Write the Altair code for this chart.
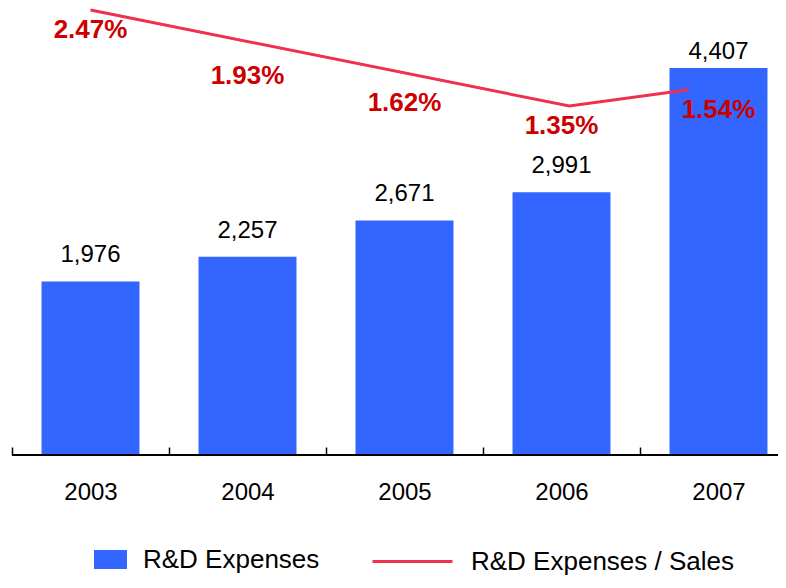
import altair as alt
import pandas as pd

# ---- data ----
years = [2003, 2004, 2005, 2006, 2007]
expenses = [1976, 2257, 2671, 2991, 4407]
expense_labels = ["1,976", "2,257", "2,671", "2,991", "4,407"]
ratio_pct = [2.47, 1.93, 1.62, 1.35, 1.54]
ratio_labels = ["2.47%", "1.93%", "1.62%", "1.35%", "1.54%"]
series_names = ["R&D Expenses", "R&D Expenses / Sales"]

# the ratio line as drawn in the picture (x in year units, y in %)
line_x = [2003.0, 2006.05, 2006.81]
line_v = [2.47, 1.35, 1.54]

FONT = "Liberation Sans"
BAR = "#3366FF"
LINE = "#F0304F"
PCT = "#CC0000"

bars_df = pd.DataFrame({"year": years, "exp": expenses, "lab": expense_labels,
                        "pct": ratio_pct, "plab": ratio_labels,
                        "series": [series_names[0]] * len(years)})
line_df = pd.DataFrame({"lx": line_x, "lv": line_v,
                        "series": [series_names[1]] * len(line_x)})

xscale = alt.Scale(domain=[2002.5, 2007.379], nice=False, zero=False)
yexp = alt.Scale(domain=[0, 5090], nice=False)
yrat = alt.Scale(domain=[-2.722, 2.4933], nice=False, zero=False)

xaxis = alt.Axis(
    values=[2002.5, 2003, 2003.5, 2004, 2004.5, 2005, 2005.5, 2006, 2006.5, 2007],
    labelExpr="datum.value % 1 == 0 ? toString(datum.value) : ''",
    tickOpacity={"condition": {"test": "datum.value % 1 != 0", "value": 1}, "value": 0},
    offset=-8, domain=False, grid=False, tickSize=8, tickColor="black", tickWidth=1.5,
    labelFontSize=24, labelFont=FONT, labelColor="black", labelPadding=25,
    labelOverlap=False, labelFlush=False, title=None,
)

base = alt.Chart(bars_df)

bars = base.transform_calculate(
    x0="datum.year - 0.312", x1="datum.year + 0.312"
).mark_bar().encode(
    x=alt.X("x0:Q", scale=xscale, axis=xaxis),
    x2="x1:Q",
    y=alt.Y("exp:Q", scale=yexp, axis=None),
    y2=alt.Y2Datum(0),
    fill=alt.Fill(
        "series:N",
        scale=alt.Scale(domain=[series_names[0]], range=[BAR]),
        legend=alt.Legend(orient="none", legendX=82, legendY=535, title=None,
                          symbolType="M-1,-0.576H1V0.576H-1Z", symbolSize=1089,
                          symbolStrokeWidth=0, labelFontSize=26, labelFont=FONT,
                          labelColor="black", labelOffset=16, padding=0, labelLimit=500),
    ),
)

rule = base.mark_rule(color="black", strokeWidth=2).encode(
    y=alt.YDatum(0, scale=yexp, axis=None)
)

exp_text = base.transform_filter("datum.year < 2007").mark_text(
    dy=-19, baseline="alphabetic", fontSize=24, font=FONT, color="black"
).encode(
    x=alt.X("year:Q", scale=xscale, axis=xaxis),
    y=alt.Y("exp:Q", scale=yexp, axis=None),
    text="lab:N",
)
exp_text_last = base.transform_filter("datum.year >= 2007").mark_text(
    dy=-9, baseline="alphabetic", fontSize=24, font=FONT, color="black"
).encode(
    x=alt.X("year:Q", scale=xscale, axis=xaxis),
    y=alt.Y("exp:Q", scale=yexp, axis=None),
    text="lab:N",
)

line = alt.Chart(line_df).mark_line(strokeWidth=3).encode(
    x=alt.X("lx:Q", scale=xscale, axis=xaxis),
    y=alt.Y("lv:Q", scale=yrat, axis=None),
    stroke=alt.Stroke(
        "series:N",
        scale=alt.Scale(domain=[series_names[1]], range=[LINE]),
        legend=alt.Legend(orient="none", legendX=359, legendY=512, title=None,
                          symbolType="stroke", symbolSize=6400, symbolStrokeWidth=3,
                          labelFontSize=26, labelFont=FONT, labelColor="black",
                          labelOffset=17, padding=0, labelLimit=500),
    ),
)

pct_text = base.mark_text(
    dy=20, baseline="middle", fontSize=26, fontWeight="bold", font=FONT, color=PCT
).encode(
    x=alt.X("year:Q", scale=xscale, axis=xaxis),
    y=alt.Y("pct:Q", scale=yrat, axis=None),
    text="plab:N",
)

left = alt.layer(bars, rule, exp_text, exp_text_last)
right = alt.layer(line, pct_text)

chart = alt.layer(left, right).resolve_scale(
    y="independent", fill="independent", stroke="independent"
).properties(
    width=766, height=447,
    padding={"left": 4, "top": 0, "right": 0, "bottom": 120},
    autosize=alt.AutoSizeParams(type="none"),
    background="white",
).configure_view(stroke=None)

chart.save("out.html", embed_options={"renderer": "svg", "actions": False})
